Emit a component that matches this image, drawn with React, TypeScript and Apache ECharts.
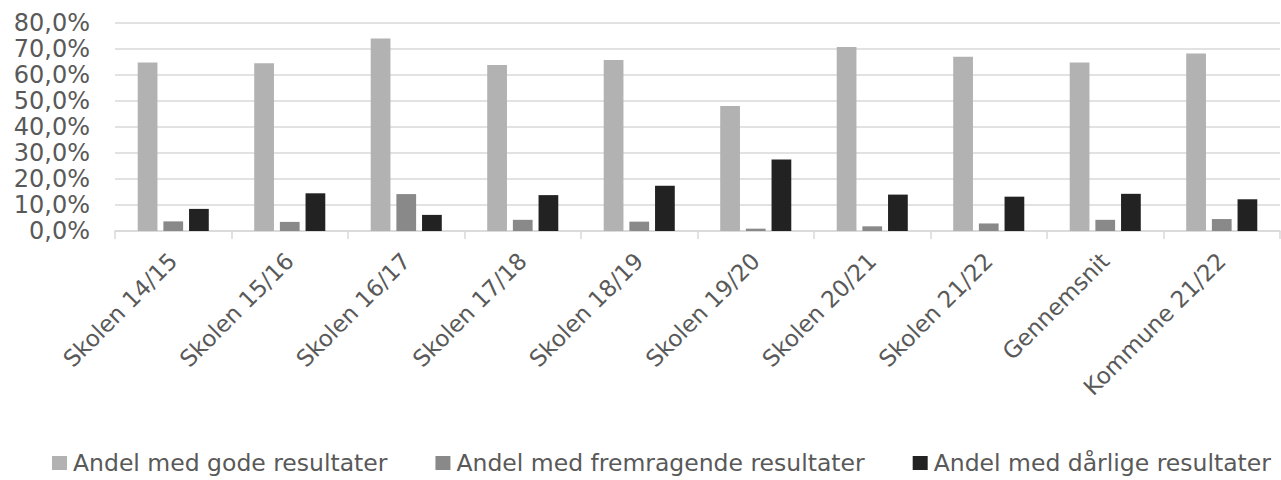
import React, { useEffect, useRef } from "react";
import * as echarts from "echarts";

const categories = [
  "Skolen 14/15",
  "Skolen 15/16",
  "Skolen 16/17",
  "Skolen 17/18",
  "Skolen 18/19",
  "Skolen 19/20",
  "Skolen 20/21",
  "Skolen 21/22",
  "Gennemsnit",
  "Kommune 21/22",
];

const seriesNames = [
  "Andel med gode resultater",
  "Andel med fremragende resultater",
  "Andel med dårlige resultater",
];

const gode = [64.8, 64.5, 74.0, 63.8, 65.8, 48.1, 70.8, 67.0, 64.8, 68.3];
const fremragende = [3.7, 3.5, 14.2, 4.3, 3.6, 0.9, 1.8, 2.9, 4.3, 4.6];
const daarlige = [8.5, 14.5, 6.2, 13.8, 17.4, 27.5, 14.0, 13.2, 14.3, 12.2];

const colors = ["#b2b2b2", "#898989", "#222222"];

const FONT = "DejaVu Sans";

export default function App() {
  const ref = useRef<HTMLDivElement>(null);

  useEffect(() => {
    if (!ref.current) return;
    const chart = echarts.init(ref.current, undefined, { renderer: "svg" });
    const data = [gode, fremragende, daarlige];
    chart.setOption({
      animation: false,
      backgroundColor: "#ffffff",
      grid: { left: 115, width: 1165, top: 23, height: 208, containLabel: false },
      legend: {
        left: 47,
        top: 446,
        itemWidth: 15,
        itemHeight: 14,
        itemGap: 48,
        icon: "rect",
        textStyle: {
          fontFamily: FONT,
          fontSize: 23.5,
          color: "#595959",
          padding: [0, 0, 0, 1],
        },
        data: seriesNames,
      },
      xAxis: {
        type: "category",
        data: categories,
        boundaryGap: true,
        axisLine: { show: true, lineStyle: { color: "#d9d9d9", width: 1.5 } },
        axisTick: { show: true, alignWithLabel: false, length: 8, lineStyle: { color: "#d9d9d9", width: 1.5 } },
        axisLabel: {
          rotate: 45,
          interval: 0,
          margin: 26,
          fontFamily: FONT,
          fontSize: 23,
          color: "#595959",
        },
      },
      yAxis: {
        type: "value",
        min: 0,
        max: 80,
        interval: 10,
        axisLine: { show: false },
        axisTick: { show: false },
        splitLine: { lineStyle: { color: "#d9d9d9", width: 1.5 } },
        axisLabel: {
          margin: 25,
          fontFamily: FONT,
          fontSize: 24,
          color: "#595959",
          formatter: (v: number) => v.toFixed(1).replace(".", ",") + "%",
        },
      },
      series: seriesNames.map((name, i) => ({
        name,
        type: "bar",
        data: data[i],
        barGap: "30%",
        barCategoryGap: "39%",
        itemStyle: { color: colors[i] },
      })),
    });
    return () => chart.dispose();
  }, []);

  return (
    <div
      ref={ref}
      style={{ position: "fixed", left: 0, top: 0, width: 1281, height: 480 }}
    />
  );
}
